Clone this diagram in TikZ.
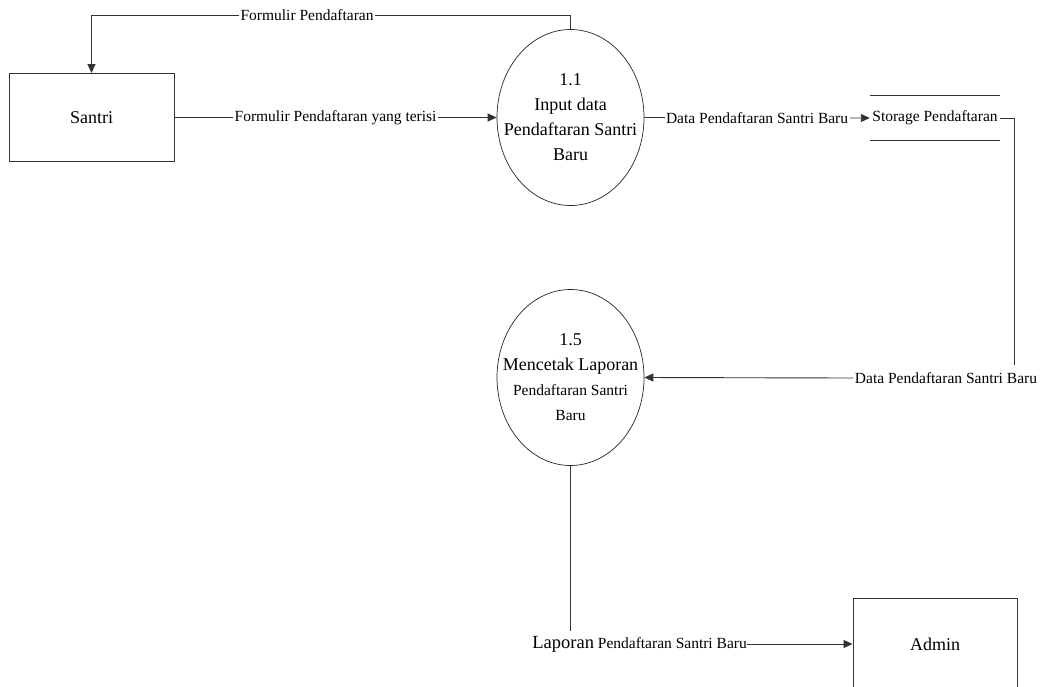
\documentclass[tikz,border=0pt]{standalone}
\usepackage{fontspec}
\setmainfont{LiberationSerif}[Extension=.ttf, UprightFont=*-Regular, BoldFont=*-Bold, ItalicFont=*-Italic]
\newfontfamily\tnr{LiberationSerif}[Extension=.ttf, UprightFont=*-Regular]
\usetikzlibrary{shapes.geometric,arrows.meta}
\begin{document}
\begin{tikzpicture}[x=1pt,y=-1pt,
 line/.style={draw=black!80, line width=0.9pt},
 arr/.style={line, -{Triangle[length=9pt,width=8pt]}},
 entity/.style={draw=black!80, line width=1pt, minimum width=165pt, minimum height=88pt, inner sep=0pt, font=\tnr\fontsize{18}{22}\selectfont},
 proc/.style={ellipse, draw=black!85, line width=0.7pt, minimum width=147pt, minimum height=176pt, inner xsep=-16pt, inner ysep=0pt, align=center, font=\tnr\fontsize{18}{25}\selectfont},
 lab/.style={fill=white, inner xsep=1.5pt, inner ysep=1pt, font=\tnr\fontsize{15.5}{18}\selectfont},
 ]
\useasboundingbox[fill=white] (0,0) rectangle (1040,686);

\node[entity] (santri) at (91.5,117.5) {Santri};
\node[proc] (p11) at (570.5,117.5) {1.1\\Input data\\Pendaftaran Santri\\Baru};
\node[proc] (p15) at (570.5,377.5) {1.5\\Mencetak Laporan\\{\fontsize{15.5}{23}\selectfont Pendaftaran Santri}\\{\fontsize{15.5}{23}\selectfont Baru}};
\node[minimum width=130pt, minimum height=44pt, inner sep=0pt, font=\tnr\fontsize{15.5}{18}\selectfont] (store) at (935,118) {Storage Pendaftaran};
\node[entity, minimum height=92pt, minimum width=164pt] (admin) at (935,644) {Admin};

\node[lab] (l4) at (946,378) {Data Pendaftaran Santri Baru};
\node[lab, inner xsep=0pt, anchor=east] (l5) at (747,644) {{\fontsize{18.5}{20}\selectfont Laporan} Pendaftaran Santri Baru};

\coordinate (c1) at (570.5,15);
\coordinate (c4) at (1014,118);
\coordinate (c5) at (1014,365);
\coordinate (c6) at (570.5,631);

\draw[line] (store.north west) -- (store.north east);
\draw[line] (store.south west) -- (store.south east);

\draw[arr] (p11.north) -- (c1) -- node[lab,pos=0.55]{Formulir Pendaftaran} (c1 -| santri.north) -- (santri.north);
\draw[arr] (santri.east) -- node[lab]{Formulir Pendaftaran yang terisi} (p11.west);
\draw[arr] (p11.east) -- node[lab]{Data Pendaftaran Santri Baru} (store.west);
\draw[line] (store.east) -- (c4) -- (c5);
\draw[arr] (l4.west) -- (p15.east);
\draw[line] (p15.south) -- (c6);
\draw[arr] (l5.east) -- (admin.west);
\end{tikzpicture}
\end{document}
